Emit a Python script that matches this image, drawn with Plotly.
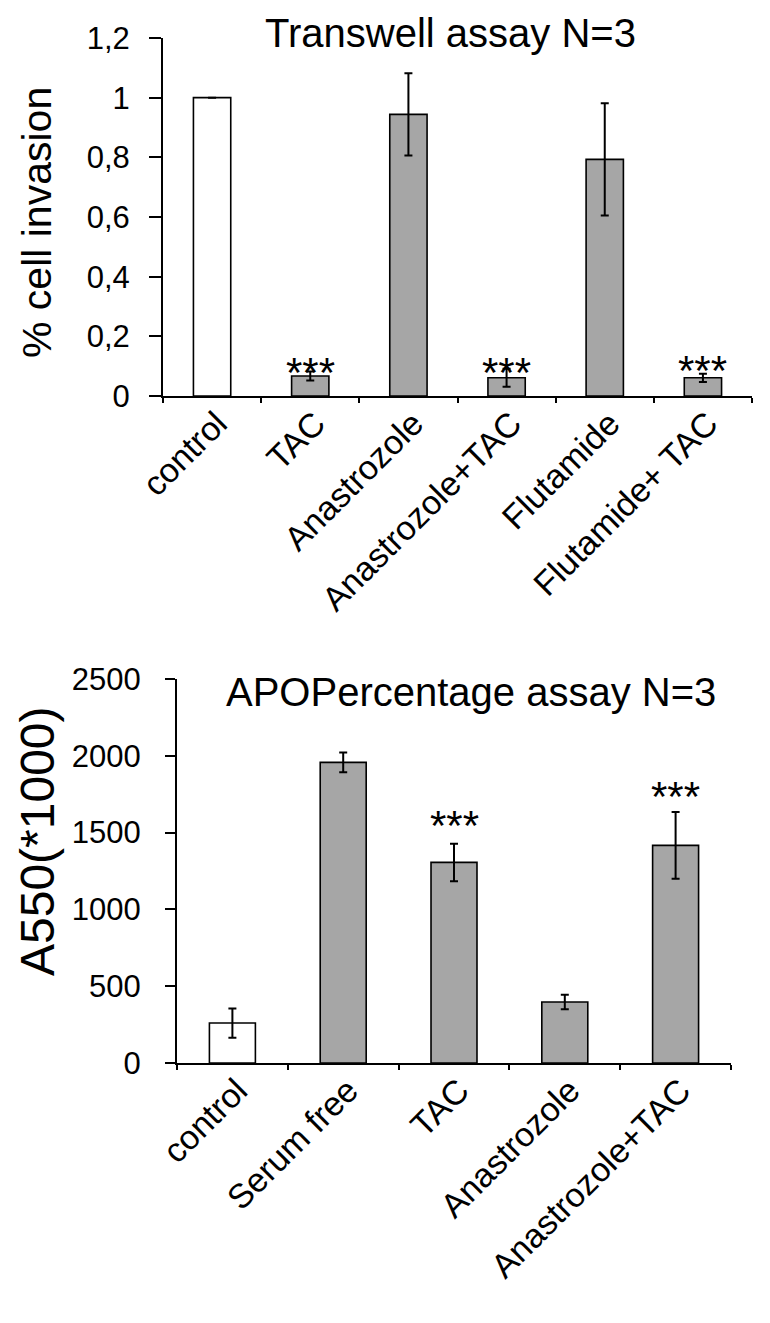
import plotly.graph_objects as go

# ---------------- data ----------------
tw_categories = ["control", "TAC", "Anastrozole", "Anastrozole+TAC", "Flutamide", "Flutamide+ TAC"]
tw_values = [1.0, 0.067, 0.944, 0.061, 0.793, 0.061]
tw_errors = [0.0, 0.015, 0.138, 0.030, 0.188, 0.014]
tw_colors = ["white", "#a6a6a6", "#a6a6a6", "#a6a6a6", "#a6a6a6", "#a6a6a6"]
tw_stars = ["", "***", "", "***", "", "***"]
tw_star_y = [0, 0.11, 0, 0.11, 0, 0.115]
tw_tickvals = [0, 0.2, 0.4, 0.6, 0.8, 1.0, 1.2]
tw_ticktext = ["0", "0,2", "0,4", "0,6", "0,8", "1", "1,2"]

apo_categories = ["control", "Serum free", "TAC", "Anastrozole", "Anastrozole+TAC"]
apo_values = [260, 1957, 1306, 397, 1417]
apo_errors = [95, 64, 122, 47, 217]
apo_colors = ["white", "#a6a6a6", "#a6a6a6", "#a6a6a6", "#a6a6a6"]
apo_stars = ["", "", "***", "", "***"]
apo_star_y = [0, 0, 1605, 0, 1794]
apo_tickvals = [0, 500, 1000, 1500, 2000, 2500]

# page has an 8px body margin; figure is sized to fit inside the window
OFF = 8
W, H = 770 - OFF, 1323 - OFF
FONT = "Liberation Sans, Arial, sans-serif"


def px_x(x):
    return (x - OFF) / W


def px_y(y):
    return 1 - (y - OFF) / H


fig = go.Figure()

fig.add_trace(go.Bar(
    x=tw_categories, y=tw_values, width=0.38,
    marker=dict(color=tw_colors, line=dict(color="black", width=1.6)),
    error_y=dict(type="data", array=tw_errors, color="black", thickness=2, width=4),
    xaxis="x", yaxis="y", showlegend=False,
))
fig.add_trace(go.Bar(
    x=apo_categories, y=apo_values, width=0.415,
    marker=dict(color=apo_colors, line=dict(color="black", width=1.6)),
    error_y=dict(type="data", array=apo_errors, color="black", thickness=2, width=4),
    xaxis="x2", yaxis="y2", showlegend=False,
))

annotations = []
for c, s, yv in zip(tw_categories, tw_stars, tw_star_y):
    if s:
        annotations.append(dict(x=c, y=yv, xref="x", yref="y", text=s, showarrow=False,
                                font=dict(family=FONT, size=42, color="black"),
                                xanchor="center", yanchor="middle", yshift=-9))
for c, s, yv in zip(apo_categories, apo_stars, apo_star_y):
    if s:
        annotations.append(dict(x=c, y=yv, xref="x2", yref="y2", text=s, showarrow=False,
                                font=dict(family=FONT, size=42, color="black"),
                                xanchor="center", yanchor="middle", yshift=-9))

# titles
annotations.append(dict(x=px_x(450), y=px_y(33), xref="paper", yref="paper",
                        text="Transwell assay N=3", showarrow=False,
                        font=dict(family=FONT, size=40, color="black"),
                        xanchor="center", yanchor="middle"))
annotations.append(dict(x=px_x(471), y=px_y(692), xref="paper", yref="paper",
                        text="APOPercentage assay N=3", showarrow=False,
                        font=dict(family=FONT, size=40, color="black"),
                        xanchor="center", yanchor="middle"))
# y-axis titles
annotations.append(dict(x=px_x(37), y=px_y(223), xref="paper", yref="paper",
                        text="% cell invasion", showarrow=False, textangle=-90,
                        font=dict(family=FONT, size=41, color="black"),
                        xanchor="center", yanchor="middle"))
annotations.append(dict(x=px_x(37), y=px_y(841), xref="paper", yref="paper",
                        text="A550(*1000)", showarrow=False, textangle=-90,
                        font=dict(family=FONT, size=48, color="black"),
                        xanchor="center", yanchor="middle"))

axis_common = dict(showline=True, linecolor="black", linewidth=2, showgrid=False,
                   zeroline=False, ticks="outside", tickcolor="black", tickwidth=2,
                   automargin=False)

fig.update_layout(
    width=W, height=H,
    margin=dict(l=0, r=0, t=0, b=0, autoexpand=False),
    paper_bgcolor="white", plot_bgcolor="white",
    font=dict(family=FONT, color="black"),
    xaxis=dict(domain=[px_x(163), px_x(752)], anchor="y", range=[-0.5, 5.5],
               tickson="boundaries", ticklen=5, tickangle=-45,
               ticklabelstandoff=-8, ticklabelshift=5,
               tickfont=dict(family=FONT, size=34, color="black"), **axis_common),
    yaxis=dict(domain=[px_y(396), px_y(38)], anchor="x", range=[0, 1.2],
               tickvals=tw_tickvals, ticktext=tw_ticktext, ticklen=12,
               ticklabelstandoff=13,
               tickfont=dict(family=FONT, size=31, color="black"), **axis_common),
    xaxis2=dict(domain=[px_x(177), px_x(731)], anchor="y2", range=[-0.5, 4.5],
                tickson="boundaries", ticklen=5, tickangle=-45,
                ticklabelstandoff=-8, ticklabelshift=5,
                tickfont=dict(family=FONT, size=34, color="black"), **axis_common),
    yaxis2=dict(domain=[px_y(1063), px_y(679)], anchor="x2", range=[0, 2500],
                tickvals=apo_tickvals, ticklen=10, ticklabelstandoff=18,
                tickfont=dict(family=FONT, size=31, color="black"), **axis_common),
    annotations=annotations,
)

fig.write_html("out.html")
